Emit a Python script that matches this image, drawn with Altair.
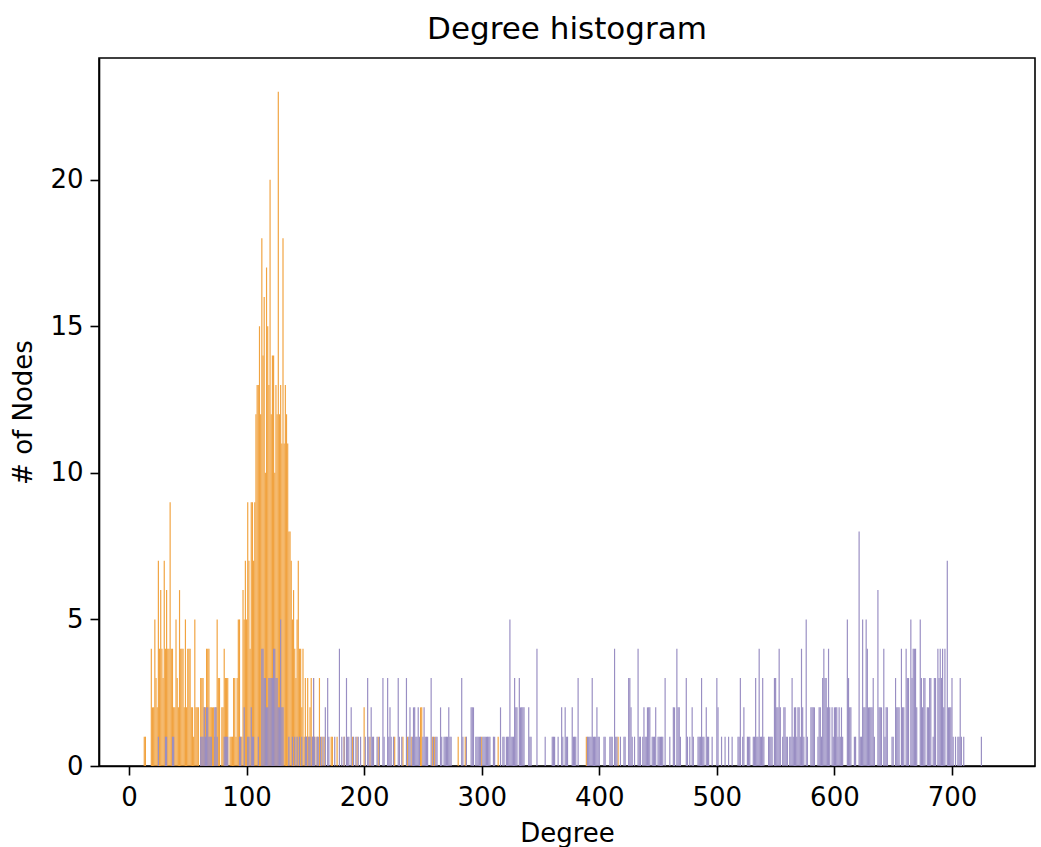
import altair as alt
import pandas as pd

# (degree, number of nodes)
orange_pairs = [
    (13, 1), (14, 1), (19, 4), (20, 2), (21, 2), (22, 5), (23, 3), (24, 2), (25, 7), (26, 4),
    (27, 6), (28, 4), (29, 3), (30, 7), (31, 4), (32, 6), (33, 4), (34, 4), (35, 9), (36, 4),
    (37, 4), (38, 2), (39, 2), (40, 5), (41, 3), (42, 2), (43, 6), (44, 4), (45, 4), (46, 4),
    (47, 2), (48, 5), (49, 2), (50, 4), (51, 4), (52, 4), (53, 2), (54, 2), (55, 1), (56, 5),
    (57, 2), (58, 2), (59, 2), (61, 3), (62, 3), (63, 3), (64, 2), (65, 2), (66, 4), (67, 4),
    (68, 4), (69, 2), (70, 2), (71, 2), (72, 2), (73, 1), (74, 2), (75, 5), (76, 3), (77, 3),
    (79, 2), (80, 2), (81, 4), (82, 3), (83, 3), (84, 3), (86, 1), (87, 1), (88, 1), (89, 3),
    (90, 3), (91, 1), (92, 3), (93, 5), (94, 5), (95, 1), (96, 1), (97, 6), (98, 5), (99, 7),
    (100, 5), (101, 9), (102, 7), (103, 4), (104, 9), (105, 9), (106, 7), (107, 9), (108, 12),
    (109, 13), (110, 13), (111, 15), (112, 12), (113, 18), (114, 14), (115, 16), (116, 10),
    (117, 17), (118, 15), (119, 13), (120, 20), (121, 12), (122, 14), (123, 14), (124, 10),
    (125, 13), (126, 12), (127, 23), (128, 12), (129, 13), (130, 11), (131, 18), (132, 11),
    (133, 13), (134, 12), (135, 11), (136, 8), (137, 8), (138, 7), (139, 5), (140, 6), (141, 4),
    (142, 3), (143, 5), (144, 7), (145, 4), (146, 4), (147, 2), (148, 4), (149, 1), (150, 3),
    (151, 1), (152, 3), (153, 1), (154, 2), (155, 3), (156, 1), (157, 3), (158, 1), (160, 1),
    (162, 3), (164, 1), (166, 1), (172, 1), (173, 1), (177, 1), (183, 1), (190, 1), (194, 1),
    (200, 2), (205, 1), (212, 1), (226, 1), (233, 1), (237, 1), (240, 1), (248, 2), (249, 2),
    (258, 1), (260, 1), (280, 1), (286, 1), (300, 1), (314, 1), (389, 1), (416, 1),
]

purple_pairs = [
    (25, 1), (31, 1), (32, 1), (37, 1), (38, 1), (61, 1), (62, 1), (63, 1), (64, 2), (65, 1),
    (66, 2), (67, 2), (68, 1), (69, 1), (70, 1), (73, 2), (74, 2), (75, 1), (81, 1), (82, 1),
    (83, 1), (84, 1), (94, 1), (95, 1), (98, 2), (101, 1), (102, 1), (104, 2), (105, 1), (106, 1),
    (110, 1), (113, 4), (114, 4), (115, 3), (116, 3), (117, 2), (118, 2), (119, 3), (120, 3),
    (121, 3), (122, 3), (123, 4), (124, 4), (125, 3), (126, 3), (127, 2), (128, 2), (129, 5),
    (130, 2), (131, 2), (136, 1), (139, 1), (141, 1), (143, 1), (145, 1), (147, 1), (150, 1),
    (151, 1), (153, 1), (154, 1), (156, 1), (157, 3), (158, 1), (160, 1), (161, 1), (163, 1),
    (165, 1), (167, 2), (169, 3), (170, 1), (175, 1), (179, 4), (181, 1), (183, 1), (185, 3),
    (186, 1), (187, 1), (189, 2), (191, 1), (193, 1), (195, 1), (197, 1), (201, 1), (203, 3),
    (204, 1), (206, 2), (207, 1), (208, 1), (211, 1), (213, 1), (216, 3), (217, 1), (220, 3),
    (221, 1), (222, 2), (223, 1), (225, 1), (229, 3), (230, 1), (232, 1), (236, 3), (238, 1),
    (239, 2), (241, 1), (242, 2), (243, 2), (244, 1), (245, 1), (246, 2), (247, 1), (250, 1),
    (251, 2), (252, 1), (253, 1), (254, 1), (257, 3), (259, 1), (261, 1), (262, 1), (265, 2),
    (266, 1), (268, 1), (269, 1), (270, 1), (271, 1), (272, 2), (273, 1), (274, 1), (283, 3),
    (284, 1), (287, 1), (291, 2), (292, 2), (293, 2), (295, 1), (296, 1), (297, 1), (298, 1),
    (299, 1), (301, 1), (302, 1), (303, 1), (304, 1), (305, 1), (306, 1), (307, 1), (310, 1),
    (311, 1), (316, 2), (318, 1), (319, 1), (321, 1), (322, 1), (323, 1), (324, 5), (325, 1),
    (326, 1), (327, 1), (328, 3), (329, 2), (330, 2), (332, 3), (333, 2), (334, 2), (335, 2),
    (336, 2), (340, 2), (341, 1), (342, 1), (347, 4), (354, 1), (360, 1), (361, 1), (362, 1),
    (365, 1), (368, 2), (369, 1), (371, 2), (372, 1), (373, 1), (377, 2), (378, 1), (379, 1),
    (380, 1), (382, 3), (390, 1), (391, 1), (392, 1), (393, 1), (394, 3), (395, 1), (396, 1),
    (397, 1), (398, 2), (399, 1), (400, 1), (404, 1), (405, 1), (409, 1), (410, 1), (411, 1),
    (413, 4), (414, 1), (415, 1), (418, 1), (421, 1), (422, 1), (425, 3), (426, 3), (427, 2),
    (428, 1), (430, 1), (433, 4), (434, 1), (435, 1), (437, 1), (438, 2), (439, 1), (440, 1),
    (441, 2), (442, 2), (443, 2), (445, 1), (446, 1), (447, 1), (448, 2), (450, 1), (451, 1),
    (452, 1), (453, 1), (454, 1), (456, 3), (460, 1), (463, 2), (464, 2), (466, 4), (467, 2),
    (468, 2), (469, 1), (474, 3), (475, 1), (477, 1), (479, 2), (480, 1), (484, 1), (485, 1),
    (486, 1), (487, 3), (488, 1), (489, 1), (491, 2), (492, 1), (493, 1), (496, 1), (500, 3),
    (501, 2), (504, 1), (507, 1), (510, 1), (513, 1), (518, 1), (519, 1), (520, 3), (522, 1),
    (523, 2), (526, 1), (527, 1), (528, 1), (531, 1), (532, 1), (533, 3), (534, 1), (535, 1),
    (536, 4), (537, 1), (538, 1), (539, 3), (540, 1), (544, 1), (545, 1), (546, 1), (547, 1),
    (549, 3), (550, 3), (551, 2), (552, 2), (553, 4), (554, 2), (556, 1), (557, 2), (558, 2),
    (559, 1), (560, 1), (562, 1), (563, 1), (564, 3), (565, 1), (566, 2), (567, 2), (568, 1),
    (569, 2), (570, 2), (571, 1), (572, 4), (573, 2), (574, 1), (576, 5), (577, 1), (580, 2),
    (581, 2), (582, 2), (583, 2), (586, 1), (587, 2), (588, 2), (589, 1), (590, 3), (591, 4),
    (592, 3), (593, 3), (594, 2), (595, 4), (596, 2), (598, 2), (599, 1), (600, 2), (601, 2),
    (602, 2), (603, 1), (604, 2), (605, 1), (606, 2), (607, 1), (611, 5), (612, 3), (613, 2),
    (614, 2), (617, 1), (618, 1), (621, 8), (622, 1), (623, 1), (624, 5), (625, 2), (626, 2),
    (627, 5), (628, 4), (629, 2), (630, 2), (631, 2), (632, 2), (633, 3), (634, 1), (637, 6),
    (638, 2), (639, 2), (640, 2), (642, 4), (643, 1), (644, 2), (645, 2), (649, 1), (650, 1),
    (652, 3), (653, 2), (654, 2), (655, 2), (657, 4), (658, 2), (659, 2), (661, 4), (662, 3),
    (663, 3), (665, 5), (666, 3), (667, 4), (668, 4), (669, 4), (670, 2), (673, 5), (674, 3),
    (675, 2), (676, 3), (677, 3), (679, 2), (680, 2), (681, 3), (682, 3), (684, 1), (685, 3),
    (686, 3), (688, 4), (689, 3), (690, 4), (691, 3), (692, 4), (693, 2), (694, 4), (696, 7),
    (697, 2), (698, 2), (699, 2), (700, 3), (701, 1), (703, 1), (705, 1), (706, 1), (707, 3),
    (708, 1), (710, 1), (725, 1),
]

x_ticks = [0, 100, 200, 300, 400, 500, 600, 700]
y_ticks = [0, 5, 10, 15, 20]

ORANGE = "#f1a340"
PURPLE = "#998ec3"
FONT = "DejaVu Sans"

df_orange = pd.DataFrame(orange_pairs, columns=["degree", "count"])
df_purple = pd.DataFrame(purple_pairs, columns=["degree", "count"])

x_scale = alt.Scale(domain=[-25.5, 770.6], nice=False, zero=False)
y_scale = alt.Scale(domain=[0, 24.15], nice=False, zero=True)

x_axis = alt.Axis(values=x_ticks, title="Degree", grid=False, format="d",
                  labelPadding=9, titlePadding=10)
y_axis = alt.Axis(values=y_ticks, title="# of Nodes", grid=False, format="d",
                  titleAngle=270, titleX=-68, titleY=354, titleBaseline="alphabetic",
                  titleAlign="center")


def bars(df, color):
    return (
        alt.Chart(df)
        .transform_calculate(x0="datum.degree - 0.5", x1="datum.degree + 0.5")
        .mark_rect(color=color, opacity=1)
        .encode(
            x=alt.X("x0:Q", scale=x_scale, axis=x_axis),
            x2="x1:Q",
            y=alt.Y("count:Q", scale=y_scale, axis=y_axis),
            y2=alt.datum(0),
        )
    )


chart = (
    alt.layer(bars(df_orange, ORANGE), bars(df_purple, PURPLE))
    .properties(
        width=936,
        height=708,
        title=alt.TitleParams("Degree histogram", font=FONT, fontSize=31,
                              fontWeight="normal", color="black", offset=12),
        autosize=alt.AutoSizeParams(type="none"),
        padding={"left": 99, "top": 58, "right": 6, "bottom": 81},
        background="white",
    )
    .configure_view(stroke="black", strokeWidth=1.6)
    .configure_axis(
        labelFont=FONT, titleFont=FONT, labelFontSize=26, titleFontSize=26,
        labelColor="black", titleColor="black", titleFontWeight="normal",
        domainColor="black", tickColor="black", tickSize=9, tickWidth=1.6,
        labelPadding=7, domainWidth=1.6,
    )
)

chart.save("out.html", embed_options={"renderer": "svg", "actions": False})
